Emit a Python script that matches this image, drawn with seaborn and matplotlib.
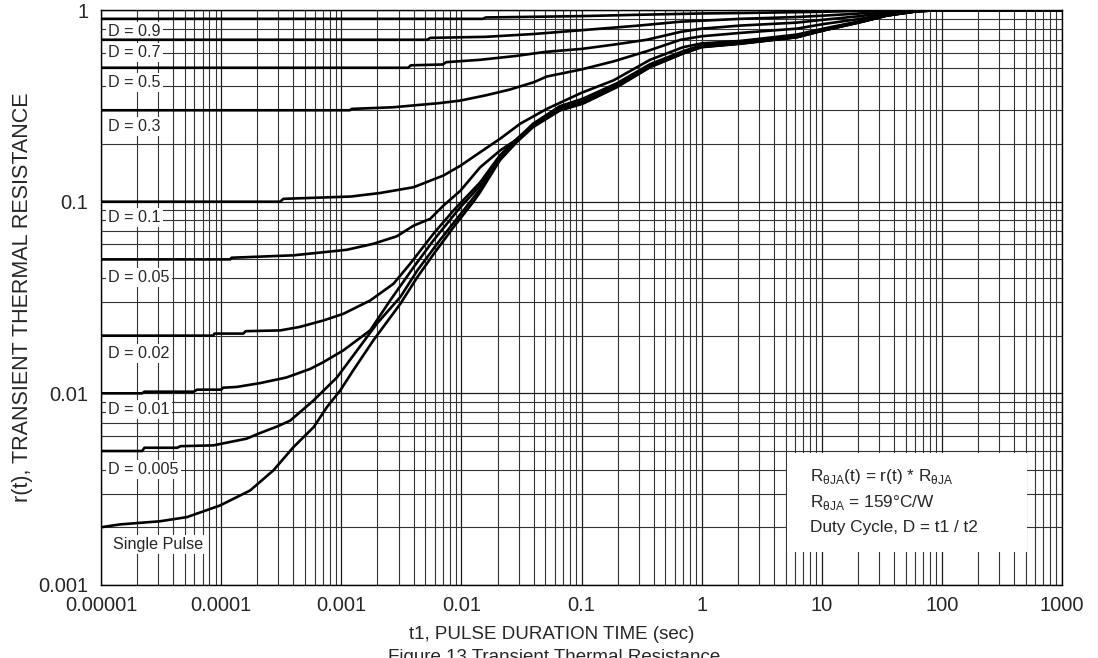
import matplotlib
matplotlib.use("Agg")
import matplotlib.pyplot as plt
import matplotlib.ticker as mticker
from matplotlib.patches import Rectangle
import pandas as pd
import seaborn as sns

# curvas (t1 en s, r(t) adimensional)
t_single = [1e-5, 1.44e-5, 3.1e-5, 5.2e-5, 9.8e-5, 1.74e-4, 2.72e-4, 4.0e-4, 5.9e-4, 7.6e-4, 9.8e-4, 1.26e-3,
            1.85e-3, 3.1e-3, 4.3e-3, 5.9e-3, 8.6e-3, 0.0126, 0.0143, 0.021, 0.029, 0.0395, 0.066, 0.103, 0.197,
            0.372, 0.70, 1.0, 2.1, 6.2, 10.3, 20.9, 34.8, 62, 100, 1000]
r_single = [0.0020, 0.00207, 0.00215, 0.00226, 0.0026, 0.00311, 0.00396, 0.00524, 0.00667, 0.00848, 0.01035, 0.0132,
            0.0189, 0.0293, 0.0404, 0.0535, 0.0736, 0.100, 0.112, 0.165, 0.205, 0.245, 0.299, 0.325, 0.396,
            0.503, 0.593, 0.64, 0.667, 0.721, 0.782, 0.864, 0.936, 0.986, 1.0, 1.0]

t_d0005 = [1e-5, 2.2e-5, 2.3e-5, 4.3e-5, 4.6e-5, 8.6e-5, 1.63e-4, 2.1e-4, 2.9e-4, 3.75e-4, 5.9e-4, 9.2e-4, 1.35e-3,
           1.98e-3, 3.1e-3, 4.3e-3, 6.6e-3, 0.0104, 0.0143, 0.021, 0.029, 0.0395, 0.066, 0.103, 0.197, 0.372,
           0.70, 1.0, 2.1, 6.2, 10.3, 20.9, 34.8, 62, 100, 1000]
r_d0005 = [0.005, 0.005, 0.0052, 0.0052, 0.0053, 0.00535, 0.0058, 0.0062, 0.0067, 0.0072, 0.0092, 0.0121, 0.0167,
           0.0231, 0.0318, 0.0438, 0.0628, 0.090, 0.116, 0.167, 0.207, 0.247, 0.301, 0.327, 0.398, 0.505,
           0.595, 0.642, 0.669, 0.722, 0.783, 0.865, 0.936, 0.986, 1.0, 1.0]

t_d001 = [1e-5, 2.2e-5, 2.3e-5, 5.9e-5, 6.3e-5, 1.0e-4, 1.04e-4, 1.35e-4, 2.1e-4, 3.5e-4, 5.5e-4, 7.1e-4, 1.04e-3,
          1.74e-3, 2.55e-3, 4.0e-3, 5.85e-3, 9.8e-3, 0.0143, 0.021, 0.029, 0.0395, 0.066, 0.103, 0.197, 0.372,
          0.70, 1.0, 2.1, 6.2, 10.3, 20.9, 34.8, 62, 100, 1000]
r_d001 = [0.01, 0.01, 0.0102, 0.0102, 0.01045, 0.01045, 0.0107, 0.0108, 0.0113, 0.0121, 0.0134, 0.01455, 0.01675,
          0.0213, 0.0305, 0.0455, 0.0628, 0.0936, 0.121, 0.170, 0.209, 0.250, 0.304, 0.330, 0.400, 0.507,
          0.597, 0.644, 0.670, 0.723, 0.784, 0.866, 0.937, 0.986, 1.0, 1.0]

t_d002 = [1e-5, 8.6e-5, 8.8e-5, 1.53e-4, 1.6e-4, 3.1e-4, 4.5e-4, 7.1e-4, 1.04e-3, 1.74e-3, 2.72e-3, 3.74e-3,
          5.85e-3, 8.6e-3, 0.0143, 0.021, 0.029, 0.0395, 0.066, 0.103, 0.197, 0.372, 0.70, 1.0, 2.1, 6.2, 10.3,
          20.9, 34.8, 62, 100, 1000]
r_d002 = [0.02, 0.02, 0.0205, 0.0205, 0.0211, 0.0213, 0.0222, 0.024, 0.026, 0.0305, 0.0373, 0.0474,
          0.068, 0.090, 0.126, 0.175, 0.213, 0.254, 0.308, 0.335, 0.404, 0.511, 0.60, 0.647, 0.673, 0.726, 0.786,
          0.867, 0.937, 0.986, 1.0, 1.0]

t_d005 = [1e-5, 1.19e-4, 1.22e-4, 4e-4, 1.11e-3, 1.85e-3, 2.9e-3, 4e-3, 5.5e-3, 7.1e-3, 9.8e-3, 0.0143, 0.021,
          0.0308, 0.0395, 0.066, 0.103, 0.197, 0.372, 0.70, 1.0, 2.1, 6.2, 10.3, 20.9, 34.8, 62, 100, 1000]
r_d005 = [0.05, 0.05, 0.051, 0.0525, 0.0561, 0.0603, 0.066, 0.075, 0.0814, 0.0955, 0.114, 0.151, 0.185,
          0.217, 0.255, 0.315, 0.345, 0.415, 0.522, 0.61, 0.655, 0.683, 0.735, 0.793, 0.871, 0.94, 0.987, 1.0, 1.0]

t_d01 = [1e-5, 3.1e-4, 3.3e-4, 1.2e-3, 2.1e-3, 4e-3, 7.1e-3, 9.8e-3, 0.0143, 0.021, 0.0308, 0.0514, 0.1, 0.185,
         0.372, 0.70, 1.0, 2.1, 6.2, 10.3, 20.9, 34.8, 62, 100, 1000]
r_d01 = [0.1, 0.1, 0.1035, 0.1064, 0.111, 0.119, 0.137, 0.154, 0.181, 0.213, 0.255, 0.305, 0.37, 0.43,
         0.55, 0.64, 0.67, 0.69, 0.745, 0.80, 0.875, 0.94, 0.988, 1.0, 1.0]

t_d03 = [1e-5, 1.18e-3, 1.22e-3, 2.7e-3, 4e-3, 6.6e-3, 9.8e-3, 0.0163, 0.0254, 0.04, 0.0514, 0.1, 0.185, 0.35,
         0.67, 1.0, 2.1, 6.2, 10.3, 20.9, 34.8, 62, 100, 1000]
r_d03 = [0.3, 0.3, 0.305, 0.311, 0.318, 0.327, 0.337, 0.36, 0.385, 0.42, 0.45, 0.49, 0.54, 0.61,
         0.70, 0.73, 0.76, 0.80, 0.845, 0.90, 0.955, 0.99, 1.0, 1.0]

t_d05 = [1e-5, 3.6e-3, 3.8e-3, 7e-3, 7.5e-3, 0.0143, 0.029, 0.05, 0.1, 0.185, 0.35, 0.67, 1.0, 2.1, 6.2, 10.3,
         20.9, 34.8, 62, 100, 1000]
r_d05 = [0.5, 0.5, 0.515, 0.52, 0.535, 0.55, 0.577, 0.605, 0.627, 0.66, 0.70, 0.77, 0.80, 0.83, 0.86, 0.89,
         0.93, 0.97, 0.995, 1.0, 1.0]

t_d07 = [1e-5, 5.2e-3, 5.5e-3, 0.016, 0.04, 0.1, 0.3, 0.67, 1.0, 2.1, 6.2, 10.3, 20.9, 34.8, 62, 100, 1000]
r_d07 = [0.7, 0.7, 0.716, 0.725, 0.75, 0.785, 0.83, 0.87, 0.88, 0.90, 0.92, 0.935, 0.96, 0.985, 1.0, 1.0, 1.0]

t_d09 = [1e-5, 0.015, 0.016, 0.1, 0.3, 1.0, 2.1, 6.2, 10.3, 20.9, 34.8, 100, 1000]
r_d09 = [0.9, 0.9, 0.915, 0.93, 0.945, 0.96, 0.965, 0.975, 0.98, 0.99, 1.0, 1.0, 1.0]

# etiquetas de cada curva y su altura (r) a la izquierda del grafico
curve_names = ["D = 0.9", "D = 0.7", "D = 0.5", "D = 0.3", "D = 0.1", "D = 0.05",
               "D = 0.02", "D = 0.01", "D = 0.005", "Single Pulse"]
label_r = [0.772, 0.60, 0.419, 0.247, 0.0827, 0.0402, 0.0162, 0.00824, 0.0040, 0.00163]

xtick_vals = [1e-5, 1e-4, 1e-3, 1e-2, 1e-1, 1, 10, 100, 1000]
xtick_labels = ["0.00001", "0.0001", "0.001", "0.01", "0.1", "1", "10", "100", "1000"]
ytick_vals = [0.001, 0.01, 0.1, 1]
ytick_labels = ["0.001", "0.01", "0.1", "1"]

series = [(t_d09, r_d09), (t_d07, r_d07), (t_d05, r_d05), (t_d03, r_d03), (t_d01, r_d01), (t_d005, r_d005),
          (t_d002, r_d002), (t_d001, r_d001), (t_d0005, r_d0005), (t_single, r_single)]
frames = []
for name, (t, r) in zip(curve_names, series):
    frames.append(pd.DataFrame({"t": t, "r": r, "curve": name}))
df = pd.concat(frames, ignore_index=True)

sns.set_style("white")
plt.rcParams["font.family"] = ["Liberation Sans", "DejaVu Sans"]
plt.rcParams["mathtext.fontset"] = "custom"
plt.rcParams["mathtext.rm"] = "Liberation Sans"

fig = plt.figure(figsize=(10.98, 6.58), dpi=100)
ax = fig.add_axes([0.092, 0.111, 0.8752, 0.8737])

sns.lineplot(data=df, x="t", y="r", hue="curve", units="curve", estimator=None, sort=False,
             palette=["black"] * len(curve_names), linewidth=1.9, legend=False, ax=ax, zorder=3)

ax.set_xscale("log")
ax.set_yscale("log")
ax.set_xlim(1e-5, 1000)
ax.set_ylim(0.001, 1)
ax.set_xticks(xtick_vals)
ax.set_xticklabels(xtick_labels)
ax.set_yticks(ytick_vals)
ax.set_yticklabels(ytick_labels)
ax.xaxis.set_minor_locator(mticker.LogLocator(base=10, subs=range(2, 10), numticks=20))
ax.yaxis.set_minor_locator(mticker.LogLocator(base=10, subs=range(2, 10), numticks=20))
ax.xaxis.set_minor_formatter(mticker.NullFormatter())
ax.yaxis.set_minor_formatter(mticker.NullFormatter())
ax.tick_params(which="both", length=0, labelsize=14.5)
ax.tick_params(axis="x", pad=8)
ax.tick_params(axis="y", pad=9)
ax.set_axisbelow(True)
ax.grid(which="major", color="#1a1a1a", linewidth=0.9)
ax.grid(which="minor", color="#333333", linewidth=0.8)
for s in ax.spines.values():
    s.set_color("black")
    s.set_linewidth(1.0)

ax.set_xlabel("t1, PULSE DURATION TIME (sec)", fontsize=13.5)
ax.xaxis.set_label_coords(0.469, -0.0862)
ax.xaxis.label.set_verticalalignment("center")
ax.set_ylabel("r(t), TRANSIENT THERMAL RESISTANCE", fontsize=15.5)
ax.yaxis.set_label_coords(-0.082, 0.5)
ax.yaxis.label.set_verticalalignment("center")

# etiquetas D = ... (debajo de las curvas, encima de la grilla)
for name, yr in zip(curve_names, label_r):
    xl = 1.15e-5 if name != "Single Pulse" else 1.25e-5
    ax.text(xl, yr, name, fontsize=11.6, va="center", ha="left", zorder=2.5,
            bbox=dict(boxstyle="square,pad=0.12", facecolor="white", edgecolor="none"))

# cuadro de notas
ax.add_patch(Rectangle((0.714, 0.057), 0.25, 0.172, transform=ax.transAxes,
                       facecolor="white", edgecolor="none", zorder=2))
notes = [r"R$_{\mathrm{θJA}}$(t) = r(t) * R$_{\mathrm{θJA}}$",
         r"R$_{\mathrm{θJA}}$ = 159°C/W",
         "Duty Cycle, D = t1 / t2"]
for i, txt in enumerate(notes):
    ax.text(0.738, 0.188 - i * 0.044, txt, transform=ax.transAxes, fontsize=12.4,
            va="center", ha="left", zorder=4)

fig.text(388 / 1098, 1 - 649 / 658, "Figure 13 Transient Thermal Resistance", fontsize=13.5,
         ha="left", va="top")

fig.savefig("out.png", dpi=100)
